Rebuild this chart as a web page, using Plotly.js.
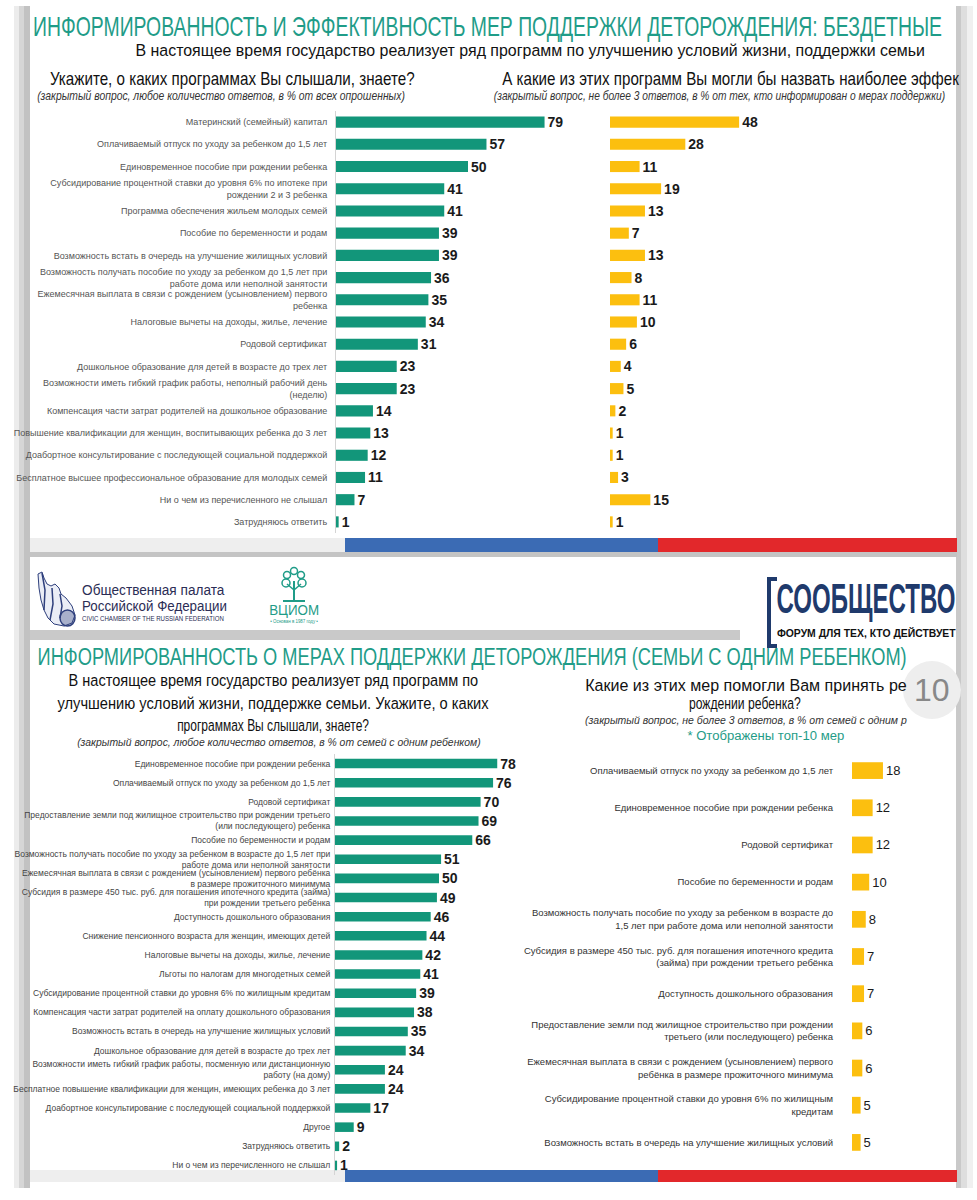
<!DOCTYPE html>
<html>
<head>
<meta charset="utf-8">
<script src="https://cdn.plot.ly/plotly-3.0.1.min.js"></script>
<style>html,body{margin:0;padding:0;background:#fff;}#chart{width:977px;height:1200px;}</style>
</head>
<body>
<div id="chart"></div>
<script>
// ---------- DATA ----------
const topCategories = [
  "Материнский (семейный) капитал",
  "Оплачиваемый отпуск по уходу за ребенком до 1,5 лет",
  "Единовременное пособие при рождении ребенка",
  "Субсидирование процентной ставки до уровня 6% по ипотеке при<br>рождении 2 и 3 ребенка",
  "Программа обеспечения жильем молодых семей",
  "Пособие по беременности и родам",
  "Возможность встать в очередь на улучшение жилищных условий",
  "Возможность получать пособие по уходу за ребенком до 1,5 лет при<br>работе дома или неполной занятости",
  "Ежемесячная выплата в связи с рождением (усыновлением) первого<br>ребенка",
  "Налоговые вычеты на доходы, жилье, лечение",
  "Родовой сертификат",
  "Дошкольное образование для детей в возрасте до трех лет",
  "Возможности иметь гибкий график работы, неполный рабочий день<br>(неделю)",
  "Компенсация части затрат родителей на дошкольное образование",
  "Повышение квалификации для женщин, воспитывающих ребенка до 3 лет",
  "Доабортное консультирование с последующей социальной поддержкой",
  "Бесплатное высшее профессиональное образование для молодых семей",
  "Ни о чем из перечисленного не слышал",
  "Затрудняюсь ответить"
];
const topHeard     = [79, 57, 50, 41, 41, 39, 39, 36, 35, 34, 31, 23, 23, 14, 13, 12, 11, 7, 1];
const topEffective = [48, 28, 11, 19, 13, 7, 13, 8, 11, 10, 6, 4, 5, 2, 1, 1, 3, 15, 1];

const oneChildCategories = [
  "Единовременное пособие при рождении ребенка",
  "Оплачиваемый отпуск по уходу за ребенком до 1,5 лет",
  "Родовой сертификат",
  "Предоставление земли под жилищное строительство при рождении третьего<br>(или последующего) ребенка",
  "Пособие по беременности и родам",
  "Возможность получать пособие по уходу за ребенком в возрасте до 1,5 лет при<br>работе дома или неполной занятости",
  "Ежемесячная выплата в связи с рождением (усыновлением) первого ребёнка<br>в размере прожиточного минимума",
  "Субсидия в размере 450 тыс. руб. для погашения ипотечного кредита (займа)<br>при рождении третьего ребёнка",
  "Доступность дошкольного образования",
  "Снижение пенсионного возраста для женщин, имеющих детей",
  "Налоговые вычеты на доходы, жилье, лечение",
  "Льготы по налогам для многодетных семей",
  "Субсидирование процентной ставки до уровня 6% по жилищным кредитам",
  "Компенсация части затрат родителей на оплату дошкольного образования",
  "Возможность встать в очередь на улучшение жилищных условий",
  "Дошкольное образование для детей в возрасте до трех лет",
  "Возможности иметь гибкий график работы, посменную или дистанционную<br>работу (на дому)",
  "Бесплатное повышение квалификации для женщин, имеющих ребенка до 3 лет",
  "Доабортное консультирование с последующей социальной поддержкой",
  "Другое",
  "Затрудняюсь ответить",
  "Ни о чем из перечисленного не слышал"
];
const oneChildHeard = [78, 76, 70, 69, 66, 51, 50, 49, 46, 44, 42, 41, 39, 38, 35, 34, 24, 24, 17, 9, 2, 1];

const helpedCategories = [
  "Оплачиваемый отпуск по уходу за ребенком до 1,5 лет",
  "Единовременное пособие при рождении ребенка",
  "Родовой сертификат",
  "Пособие по беременности и родам",
  "Возможность получать пособие по уходу за ребенком в возрасте до<br>1,5 лет при работе дома или неполной занятости",
  "Субсидия в размере 450 тыс. руб. для погашения ипотечного кредита<br>(займа) при рождении третьего ребёнка",
  "Доступность дошкольного образования",
  "Предоставление земли под жилищное строительство при рождении<br>третьего (или последующего) ребенка",
  "Ежемесячная выплата в связи с рождением (усыновлением) первого<br>ребёнка в размере прожиточного минимума",
  "Субсидирование процентной ставки до уровня 6% по жилищным<br>кредитам",
  "Возможность встать в очередь на улучшение жилищных условий"
];
const helpedValues = [18, 12, 12, 10, 8, 7, 7, 6, 6, 5, 5];

// ---------- STYLE ----------
const W = 977, H = 1200;
const GREEN = "#12967a", YELLOW = "#fcbf0f", TEAL = "#1f9c88", NAVY = "#1f3a6c";
const BLUE = "#3b6bb4", RED = "#e2282b";
const SANS = "'Liberation Sans', Arial, sans-serif";
const px = v => v / W;
const py = v => 1 - v / H;

function barTrace(x, y, xa, ya, color, width, tf) {
  return {
    type: "bar", orientation: "h", x: x, y: y, xaxis: xa, yaxis: ya,
    marker: { color: color, line: { width: 0 } }, width: width,
    text: x.map(String), textposition: "outside", cliponaxis: false,
    constraintext: "none", textfont: tf, hoverinfo: "skip"
  };
}

const valFontBold = { family: SANS, size: 14, color: "#1a1a1a", weight: "bold" };
const data = [
  barTrace(topHeard, topCategories, "x", "y", GREEN, 0.5, valFontBold),
  barTrace(topEffective, topCategories, "x2", "y2", YELLOW, 0.5, valFontBold),
  barTrace(oneChildHeard, oneChildCategories, "x3", "y3", GREEN, 0.5, valFontBold),
  barTrace(helpedValues, helpedCategories, "x4", "y4", YELLOW, 0.45, { family: SANS, size: 13, color: "#1a1a1a" })
];

function xAx(d, r, anchor) {
  return { domain: [px(d[0]), px(d[1])], range: r, visible: false, fixedrange: true, anchor: anchor };
}
function yAx(d, anchor, showLabels, size, color, standoff, line) {
  return {
    domain: [py(d[1]), py(d[0])], anchor: anchor, type: "category", autorange: "reversed",
    showgrid: false, zeroline: false, ticks: "", showticklabels: showLabels,
    tickfont: { family: SANS, size: size, color: color }, ticklabelstandoff: standoff,
    showline: line, linecolor: "#d4d4d4", linewidth: 1, fixedrange: true
  };
}

const shapes = [];
function rect(x0, y0, x1, y1, color) {
  shapes.push({ type: "rect", xref: "paper", yref: "paper", x0: px(x0), x1: px(x1), y0: py(y1), y1: py(y0),
    fillcolor: color, line: { width: 0 }, layer: "below" });
}
// card edges
rect(14, 6, 19, 1188, "#ececec");
rect(19, 6, 24, 1188, "#d6d6d6");
rect(24, 6, 30, 1188, "#c2c2c2");
rect(956, 6, 961, 1188, "#c9c9c9");
rect(961, 6, 967, 1188, "#dedede");
rect(967, 6, 973, 1188, "#f0f0f0");
// top bands
rect(30, 538, 345, 552, "#eeeeee");
rect(345, 538, 658, 552, BLUE);
rect(658, 538, 957, 552, RED);
rect(30, 552, 957, 557, "#c4c4c4");
// middle grey bar
rect(30, 630, 740, 640, "#c9c9c9");
// bottom bands
rect(30, 1170, 345, 1182, "#eeeeee");
rect(345, 1170, 658, 1182, BLUE);
rect(658, 1170, 957, 1182, RED);
// page number circle
shapes.push({ type: "circle", xref: "paper", yref: "paper", x0: px(903), x1: px(961), y0: py(719), y1: py(661),
  fillcolor: "#eeeeee", line: { width: 0 }, layer: "below" });
function path(d, color, w, fill) {
  shapes.push({ type: "path", xref: "paper", yref: "paper", path: d, line: { color: color, width: w },
    fillcolor: fill || "rgba(0,0,0,0)", layer: "above" });
}
function P(pts) { return pts.map((p, i) => (i ? "L" : "M") + px(p[0]) + "," + py(p[1])).join(" "); }
// bracket for СООБЩЕСТВО
path(P([[777, 579], [769, 579], [769, 646], [777, 646]]), NAVY, 4);
// civic chamber emblem (stylised figures)
path(P([[38, 574], [42, 572], [44, 578], [47, 584], [51, 586], [55, 584], [59, 588], [61, 594], [66, 598], [72, 606], [75, 615], [72, 623], [64, 626], [54, 624], [48, 618], [44, 610], [41, 600], [39, 588]]) + " Z", "#2e3f7c", 1, "rgba(220,225,240,0.6)");
path(P([[42, 573], [45, 590], [44, 610]]), "#2e3f7c", 1.5);
path(P([[52, 588], [53, 604], [50, 620]]), "#2e3f7c", 1.5);
path(P([[60, 594], [62, 606], [60, 618]]), "#2e3f7c", 1.5);
shapes.push({ type: "circle", xref: "paper", yref: "paper", x0: px(60), x1: px(75), y0: py(626), y1: py(610),
  line: { color: "#2e3f7c", width: 1.5 }, fillcolor: "rgba(46,63,124,0.35)", layer: "above" });
// ВЦИОМ plant
path(P([[294, 601], [294, 581]]), TEAL, 2);
path(P([[283, 601], [305, 601]]), TEAL, 2);
path(P([[294, 590], [287, 584]]), TEAL, 1.5);
path(P([[294, 590], [301, 584]]), TEAL, 1.5);
[[286, 583, 4], [302, 583, 4], [287, 575, 3.5], [301, 575, 3.5], [294, 571, 3.5]].forEach(c => {
  shapes.push({ type: "circle", xref: "paper", yref: "paper", x0: px(c[0] - c[2]), x1: px(c[0] + c[2]),
    y0: py(c[1] + c[2]), y1: py(c[1] - c[2]), line: { color: TEAL, width: 1.5 }, layer: "above" });
});

// ---------- TEXTS (annotations); fitW = width the text occupies in the reference ----------
const annotations = [];
const fitWidths = [];
function txt(t, x, y, anchor, font, fitW) {
  annotations.push({ text: t, x: px(x), y: py(y), xref: "paper", yref: "paper", xanchor: anchor, yanchor: "middle",
    showarrow: false, font: font });
  fitWidths.push(fitW ? { w: fitW, anchor: anchor } : null);
}
const F = (size, color, extra) => Object.assign({ family: SANS, size: size, color: color }, extra || {});
txt("ИНФОРМИРОВАННОСТЬ И ЭФФЕКТИВНОСТЬ МЕР ПОДДЕРЖКИ ДЕТОРОЖДЕНИЯ: БЕЗДЕТНЫЕ", 31, 27, "left", F(27, TEAL), 909);
txt("В настоящее время государство реализует ряд программ по улучшению условий жизни, поддержки семьи", 530, 51, "center", F(17, "#111"), 790);
txt("Укажите, о каких программах Вы слышали, знаете?", 232, 79, "center", F(18, "#111"), 365);
txt("(закрытый вопрос, любое количество ответов, в % от всех опрошенных)", 221, 96, "center", F(12, "#333", { style: "italic" }), 368);
txt("А какие из этих программ Вы могли бы назвать наиболее эффек", 500, 79, "left", F(18, "#111"), 457);
txt("(закрытый вопрос, не более 3 ответов, в % от тех, кто информирован о мерах поддержки)", 719, 96, "center", F(12, "#333", { style: "italic" }), 452);

txt("Общественная палата", 80, 589, "left", F(15, "#2b2d55"), 143);
txt("Российской Федерации", 80, 605, "left", F(15, "#2b2d55"), 145);
txt("CIVIC CHAMBER OF THE RUSSIAN FEDERATION", 80, 618, "left", F(8, "#2b2d55"), 142);
txt("ВЦИОМ", 294, 610, "center", F(14, TEAL), 50);
txt("• Основан в 1987 году •", 294, 621, "center", F(5, TEAL), 48);
txt("СООБЩЕСТВО", 958, 598, "right", F(42, NAVY, { weight: "bold" }), 179);
txt("ФОРУМ ДЛЯ ТЕХ, КТО ДЕЙСТВУЕТ", 958, 633, "right", F(11.5, "#111", { weight: "bold" }), 179);

txt("ИНФОРМИРОВАННОСТЬ О МЕРАХ ПОДДЕРЖКИ ДЕТОРОЖДЕНИЯ (СЕМЬИ С ОДНИМ РЕБЕНКОМ)", 35, 656, "left", F(24, TEAL), 870);
txt("10", 932, 690, "center", F(32, "#888"));

txt("В настоящее время государство реализует ряд программ по", 273, 680, "center", F(17, "#111"), 410);
txt("улучшению условий жизни, поддержке семьи. Укажите, о каких", 273, 703, "center", F(17, "#111"), 432);
txt("программах Вы слышали, знаете?", 273, 725, "center", F(17, "#111"), 192);
txt("(закрытый вопрос, любое количество ответов, в % от семей с одним ребенком)", 279, 742, "center", F(10.5, "#333", { style: "italic" }), 404);

txt("Какие из этих мер помогли Вам принять ре", 583, 685, "left", F(16.5, "#111"), 322);
txt("рождении ребенка?", 745, 703, "center", F(16.5, "#111"), 112);
txt("(закрытый вопрос, не более 3 ответов, в % от семей с одним р", 583, 720, "left", F(10.5, "#333", { style: "italic" }), 322);
txt("* Отображены топ-10 мер", 766, 735, "center", F(13.5, TEAL), 157);

const layout = {
  width: W, height: H, margin: { l: 0, r: 0, t: 0, b: 0 },
  paper_bgcolor: "#ffffff", plot_bgcolor: "rgba(0,0,0,0)", showlegend: false,
  xaxis: xAx([336, 600], [0, 100], "y"),
  yaxis: yAx([111, 533], "x", true, 9, "#555", 6, true),
  xaxis2: xAx([610, 879], [0, 100], "y2"),
  yaxis2: yAx([111, 533], "x2", false, 9, "#555", 6, false),
  xaxis3: xAx([335, 543], [0, 100], "y3"),
  yaxis3: yAx([754, 1175], "x3", true, 8.5, "#444", 2, true),
  xaxis4: xAx([852, 938], [0, 50], "y4"),
  yaxis4: yAx([752, 1161], "x4", true, 9.5, "#333", 18, false),
  shapes: shapes, annotations: annotations
};

Plotly.newPlot("chart", data, layout, { staticPlot: true, displayModeBar: false }).then(gd => {
  // condense texts horizontally so they occupy the same width as the narrow font of the reference
  gd.querySelectorAll(".annotation").forEach(g => {
    const i = +g.getAttribute("data-index");
    const spec = fitWidths[i];
    if (!spec) return;
    const t = g.querySelector("text.annotation-text");
    if (!t) return;
    const w = t.getBBox().width;
    if (!w) return;
    const s = spec.w / w;
    t.style.transformBox = "fill-box";
    t.style.transformOrigin = spec.anchor === "left" ? "left center" : (spec.anchor === "right" ? "right center" : "center center");
    t.style.transform = "scaleX(" + s.toFixed(4) + ")";
  });
});
</script>
</body>
</html>
